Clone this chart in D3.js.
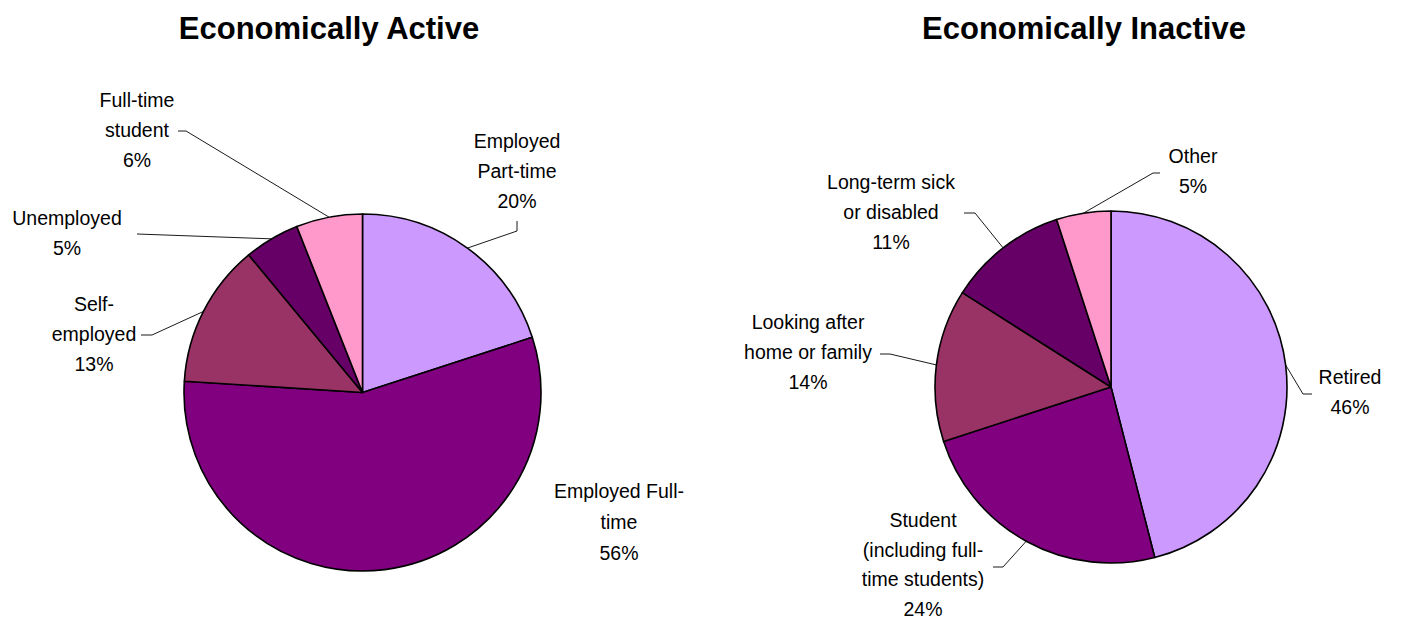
<!DOCTYPE html>
<html>
<head>
<meta charset="utf-8">
<script src="https://cdn.jsdelivr.net/npm/d3@7/dist/d3.min.js"></script>
<style>
  html, body { margin: 0; padding: 0; background: #fff; }
  svg { display: block; }
  text { font-family: "Liberation Sans", Arial, sans-serif; fill: #000; }
</style>
</head>
<body>
<svg id="chart" width="1401" height="619"></svg>
<script>
// ---- data ----
const activeTitle = "Economically Active";
const activeCategories = ["Employed Part-time", "Employed Full-time", "Self-employed", "Unemployed", "Full-time student"];
const activeValues = [20, 56, 13, 5, 6];
const activeLabelLines = [["Employed", "Part-time"], ["Employed Full-", "time"], ["Self-", "employed"], ["Unemployed"], ["Full-time", "student"]];

const inactiveTitle = "Economically Inactive";
const inactiveCategories = ["Retired", "Student (including full-time students)", "Looking after home or family", "Long-term sick or disabled", "Other"];
const inactiveValues = [46, 24, 14, 11, 5];
const inactiveLabelLines = [["Retired"], ["Student", "(including full-", "time students)"], ["Looking after", "home or family"], ["Long-term sick", "or disabled"], ["Other"]];

// slice fills, in slice order
const sliceColors = ["#CC99FF", "#800080", "#993366", "#660066", "#FF99CC"];

// ---- layout ----
const LINE = 30;
const activeLayout = {
  cx: 362.5, cy: 392.5, r: 178.5, titleX: 329, titleY: 39,
  labels: [
    { x: 517, y: 148, leader: [[517, 221], [517, 231]] },
    { x: 619, y: 498, leader: null, lh: 31 },
    { x: 94, y: 311, leader: [[141, 335], [152, 335]] },
    { x: 67, y: 225, leader: [[137, 234]] },
    { x: 137, y: 107, leader: [[178, 131], [186, 131]] }
  ]
};
const inactiveLayout = {
  cx: 1111, cy: 387, r: 176, titleX: 1084, titleY: 39,
  labels: [
    { x: 1350, y: 384, leader: [[1312, 394], [1303, 394]] },
    { x: 923, y: 527, leader: [[993, 567], [1003, 567]], lh: 29.5 },
    { x: 808, y: 329, leader: [[880, 354], [890, 354]] },
    { x: 891, y: 189, leader: [[964, 213], [975, 213]] },
    { x: 1193, y: 163, leader: [[1160, 173], [1153, 173]] }
  ]
};

const svg = d3.select("#chart");

function drawPie(title, categories, values, labelLines, layout) {
  const data = categories.map((c, i) => ({ category: c, value: values[i], lines: labelLines[i], i }));
  const pie = d3.pie().sort(null).value(d => d.value);
  const arcs = pie(data);
  const arc = d3.arc().innerRadius(0).outerRadius(layout.r);
  const edge = d3.arc().innerRadius(layout.r).outerRadius(layout.r);

  svg.append("text")
    .attr("x", layout.titleX).attr("y", layout.titleY)
    .attr("text-anchor", "middle")
    .style("font-size", "31px").style("font-weight", "bold")
    .text(title);

  const g = svg.append("g").attr("transform", `translate(${layout.cx},${layout.cy})`);
  g.selectAll("path.slice").data(arcs).join("path")
    .attr("class", "slice")
    .attr("d", arc)
    .attr("fill", d => sliceColors[d.data.i])
    .attr("stroke", "#000").attr("stroke-width", 1.6)
    .attr("stroke-linejoin", "round");

  // leader lines from label to slice edge
  arcs.forEach((a, k) => {
    const lab = layout.labels[k];
    if (!lab.leader) return;
    const c = edge.centroid(a);
    const pts = lab.leader.concat([[layout.cx + c[0], layout.cy + c[1]]]);
    svg.append("path")
      .attr("d", d3.line()(pts))
      .attr("fill", "none").attr("stroke", "#000").attr("stroke-width", 0.9);
  });

  // labels: category lines + percentage
  arcs.forEach((a, k) => {
    const lab = layout.labels[k];
    const lh = lab.lh || LINE;
    const lines = a.data.lines.concat([a.data.value + "%"]);
    const t = svg.append("text")
      .attr("text-anchor", "middle")
      .style("font-size", "19.5px");
    lines.forEach((s, j) => {
      t.append("tspan").attr("x", lab.x).attr("y", lab.y + j * lh).text(s);
    });
  });
}

drawPie(activeTitle, activeCategories, activeValues, activeLabelLines, activeLayout);
drawPie(inactiveTitle, inactiveCategories, inactiveValues, inactiveLabelLines, inactiveLayout);
</script>
</body>
</html>
